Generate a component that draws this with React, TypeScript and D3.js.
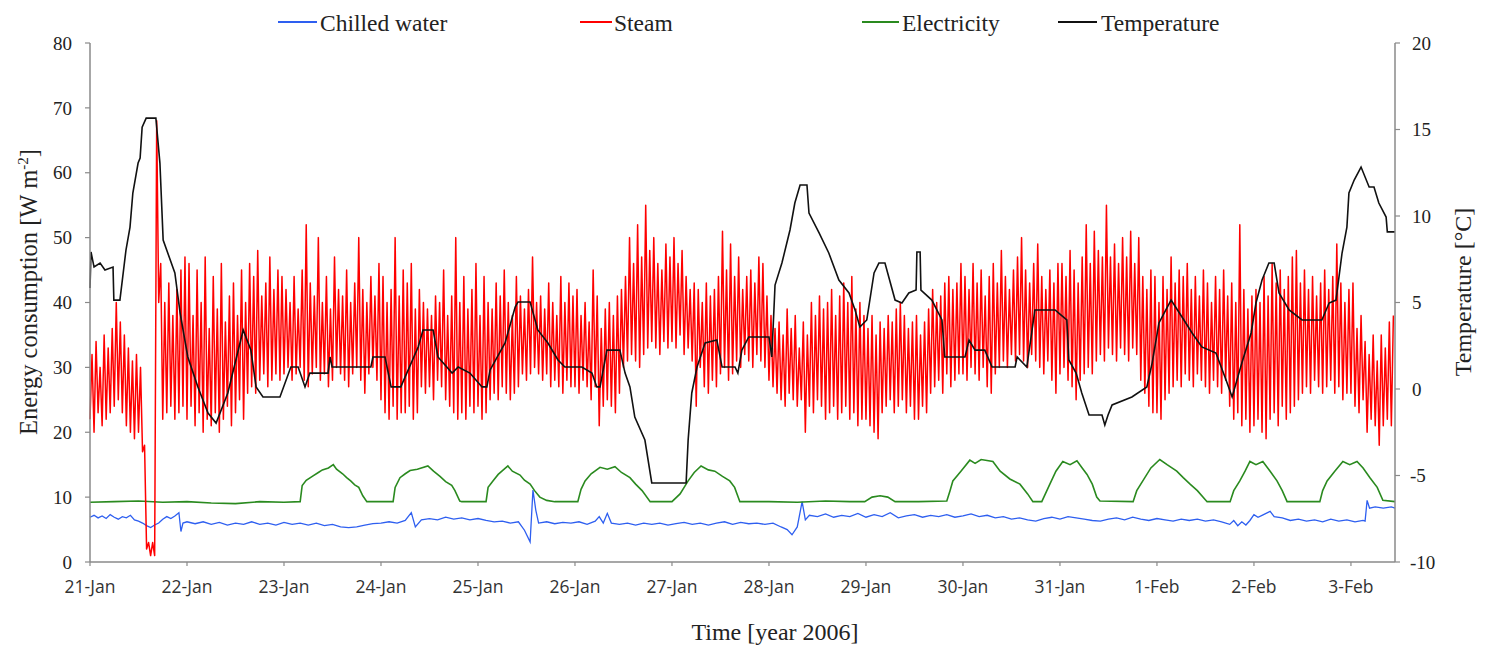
import React from "react";
import * as d3 from "d3";

// ---------- DATA ----------
const START = Date.UTC(2006, 0, 21);
const END_HOURS = 322.9;

const leftTicks = [0, 10, 20, 30, 40, 50, 60, 70, 80];
const rightTicks = [-10, -5, 0, 5, 10, 15, 20];
const legendItems = ["Chilled water", "Steam", "Electricity", "Temperature"];

// Steam (W m-2): each hour a trough reading (on the hour) and a peak reading (half past)
const steamLoJan21 = [22, 20, 23, 21, 22, 23, 24, 25, 23, 21, 20, 19, 20, 17, 2, 1, 1, 40, 22, 23, 24, 22, 23, 24];
const steamHiJan21 = [32, 34, 30, 35, 33, 36, 40, 37, 35, 33, 31, 32, 30, 18, 3, 3, 68, 46, 40, 43, 38, 42, 45, 47];
const steamLoJan22 = [22, 24, 21, 23, 20, 22, 21, 23, 20, 22, 24, 21, 23, 25, 22, 26, 27, 26, 28, 29, 27, 28, 29, 28];
const steamHiJan22 = [46, 38, 45, 40, 47, 36, 44, 39, 46, 37, 41, 43, 38, 45, 40, 46, 44, 48, 41, 43, 47, 42, 45, 44];
const steamLoJan23 = [29, 30, 28, 29, 30, 28, 27, 29, 30, 28, 29, 27, 28, 30, 29, 28, 27, 29, 30, 28, 26, 29, 30, 28];
const steamHiJan23 = [42, 40, 44, 39, 45, 52, 43, 41, 50, 40, 44, 39, 47, 42, 41, 45, 40, 43, 50, 42, 40, 44, 41, 46];
const steamLoJan24 = [25, 23, 22, 24, 22, 23, 23, 24, 22, 23, 27, 26, 27, 25, 28, 27, 25, 24, 23, 22, 23, 22, 24, 23];
const steamHiJan24 = [44, 40, 42, 50, 41, 45, 43, 46, 39, 42, 40, 39, 38, 41, 40, 45, 38, 41, 50, 40, 44, 39, 42, 46];
const steamLoJan25 = [24, 22, 23, 25, 26, 25, 27, 26, 25, 26, 27, 29, 28, 29, 30, 29, 28, 29, 27, 28, 27, 26, 28, 27];
const steamHiJan25 = [38, 44, 40, 39, 43, 41, 45, 40, 38, 44, 41, 39, 42, 47, 40, 41, 39, 43, 40, 38, 44, 40, 43, 41];
const steamLoJan26 = [27, 26, 28, 27, 25, 27, 21, 24, 25, 24, 23, 26, 30, 31, 32, 31, 30, 32, 33, 34, 33, 32, 34, 33];
const steamHiJan26 = [42, 38, 40, 37, 45, 41, 36, 39, 40, 38, 41, 42, 44, 50, 46, 52, 47, 55, 48, 50, 46, 45, 49, 47];
const steamLoJan27 = [34, 33, 35, 32, 33, 31, 24, 30, 27, 26, 28, 27, 29, 30, 28, 29, 31, 30, 32, 31, 30, 32, 31, 30];
const steamHiJan27 = [50, 46, 48, 44, 42, 43, 42, 40, 43, 41, 42, 44, 51, 45, 49, 44, 47, 42, 44, 45, 43, 47, 46, 41];
const steamLoJan28 = [28, 27, 26, 25, 24, 26, 25, 24, 25, 20, 24, 23, 25, 24, 22, 23, 24, 22, 23, 24, 22, 23, 21, 22];
const steamHiJan28 = [38, 36, 37, 35, 39, 36, 38, 33, 37, 35, 40, 38, 41, 39, 40, 42, 38, 41, 43, 40, 44, 39, 40, 38];
const steamLoJan29 = [22, 21, 20, 19, 23, 24, 25, 23, 24, 25, 23, 24, 22, 22, 24, 23, 26, 27, 28, 26, 29, 27, 28, 29];
const steamHiJan29 = [36, 38, 35, 37, 36, 38, 37, 39, 40, 38, 36, 37, 38, 35, 37, 39, 42, 40, 41, 43, 44, 42, 43, 46];
const steamLoJan30 = [29, 28, 30, 29, 28, 30, 27, 26, 29, 30, 31, 30, 32, 31, 32, 31, 30, 32, 31, 30, 29, 31, 28, 26];
const steamHiJan30 = [44, 42, 46, 43, 45, 41, 44, 46, 43, 48, 44, 42, 45, 47, 50, 45, 43, 46, 49, 44, 42, 45, 43, 46];
const steamLoJan31 = [29, 30, 28, 27, 25, 28, 29, 30, 29, 31, 32, 31, 33, 32, 31, 33, 32, 31, 33, 32, 28, 26, 24, 23];
const steamHiJan31 = [46, 44, 48, 45, 43, 47, 52, 46, 51, 48, 47, 55, 47, 49, 46, 50, 47, 51, 46, 50, 44, 42, 45, 44];
const steamLoFeb1 = [23, 22, 25, 26, 27, 28, 27, 29, 28, 27, 29, 28, 27, 26, 28, 27, 26, 28, 24, 22, 23, 21, 22, 20];
const steamHiFeb1 = [40, 44, 42, 47, 43, 45, 44, 46, 42, 44, 41, 45, 43, 40, 44, 42, 45, 41, 43, 40, 52, 42, 39, 41];
const steamLoFeb2 = [21, 22, 20, 19, 22, 23, 21, 24, 22, 23, 24, 25, 26, 27, 26, 28, 27, 26, 27, 28, 26, 27, 25, 26];
const steamHiFeb2 = [42, 40, 44, 41, 46, 43, 45, 42, 44, 47, 48, 43, 45, 42, 44, 41, 43, 45, 42, 44, 49, 43, 40, 42];
const steamLoFeb3 = [26, 24, 23, 25, 20, 22, 21, 18, 21, 22, 21];
const steamHiFeb3 = [43, 36, 38, 34, 32, 35, 31, 35, 33, 37, 38];

const steamLoDays = [steamLoJan21, steamLoJan22, steamLoJan23, steamLoJan24, steamLoJan25, steamLoJan26, steamLoJan27,
  steamLoJan28, steamLoJan29, steamLoJan30, steamLoJan31, steamLoFeb1, steamLoFeb2, steamLoFeb3];
const steamHiDays = [steamHiJan21, steamHiJan22, steamHiJan23, steamHiJan24, steamHiJan25, steamHiJan26, steamHiJan27,
  steamHiJan28, steamHiJan29, steamHiJan30, steamHiJan31, steamHiFeb1, steamHiFeb2, steamHiFeb3];

// Temperature breakpoints [hour, °C]
const temperature: [number, number][] = [
  [0, 5.84], [0.25, 7.92], [1, 7.05], [2.5, 7.28], [3.7, 6.88], [5.7, 7.05], [5.9, 5.14], [7.4, 5.14],
  [8.9, 8.03], [9.9, 9.36], [10.6, 11.33], [11.9, 13.06], [12.4, 13.35], [12.9, 15.14], [13.9, 15.66],
  [16.3, 15.66], [17.3, 13.06], [18.1, 8.61], [21.0, 6.71], [22.3, 4.39], [24.2, 1.85], [26.7, 0.12],
  [29.2, -1.39], [31.2, -1.97], [34.1, -0.23], [37.9, 3.41], [39.8, 2.25], [41.1, 0.12], [42.8, -0.46],
  [47.0, -0.46], [49.7, 1.27], [51.5, 1.27], [53.2, 0.12], [54.4, 0.92], [58.9, 0.92], [59.4, 1.85],
  [59.9, 1.27], [69.5, 1.27], [70.0, 1.85], [73.0, 1.85], [74.5, 0.12], [76.9, 0.12], [81.2, 2.43],
  [82.4, 3.41], [84.9, 3.41], [86.1, 1.85], [89.6, 0.92], [91.1, 1.27], [94.0, 0.92], [97.0, 0.12],
  [98.2, 0.12], [99.0, 1.10], [102.7, 2.66], [105.2, 4.74], [105.9, 5.03], [108.9, 5.03], [110.8, 3.41],
  [113.3, 2.66], [115.8, 1.68], [117.5, 1.27], [121.7, 1.27], [124.2, 0.92], [125.4, 0.12], [126.2, 0.12],
  [127.9, 2.25], [131.1, 2.25], [132.4, 0.92], [133.6, 0.12], [134.8, -1.62], [137.3, -2.95], [139.0, -5.43],
  [147.5, -5.43], [148.0, -2.95], [148.9, -0.23], [150.2, 1.27], [152.2, 2.66], [155.1, 2.83], [156.4, 1.27],
  [159.6, 1.27], [160.3, 0.92], [161.3, 2.25], [163.0, 3.01], [168.0, 3.01], [168.7, 1.85], [169.5, 6.01],
  [171.2, 7.28], [173.2, 9.19], [174.4, 10.75], [175.7, 11.79], [177.4, 11.79], [177.9, 10.17], [180.4, 9.02],
  [182.8, 7.86], [185.3, 6.30], [187.8, 5.55], [189.3, 4.57], [190.5, 3.58], [192.2, 3.99], [194.0, 6.71],
  [195.2, 7.28], [196.7, 7.28], [199.2, 5.14], [200.9, 4.97], [202.6, 5.55], [204.4, 5.72], [204.6, 7.92],
  [205.4, 7.92], [205.6, 5.72], [208.3, 5.14], [210.8, 3.99], [211.5, 1.85], [216.5, 1.85], [217.5, 2.83],
  [219.0, 2.25], [221.4, 2.25], [223.2, 1.27], [228.9, 1.27], [229.4, 1.85], [231.8, 1.27], [233.8, 4.57],
  [238.8, 4.57], [239.7, 4.39], [241.7, 3.99], [242.2, 1.68], [244.0, 0.92], [245.4, -0.23], [247.2, -1.50],
  [250.4, -1.50], [251.1, -2.08], [251.9, -1.50], [252.9, -0.92], [257.8, -0.46], [261.5, 0.12], [262.8, 1.50],
  [264.5, 3.82], [266.2, 4.57], [267.5, 5.14], [270.2, 4.16], [272.7, 3.24], [275.1, 2.43], [278.6, 2.08],
  [281.1, 0.52], [282.6, -0.46], [285.0, 1.50], [287.3, 3.24], [288.5, 4.97], [290.0, 6.30], [291.7, 7.28],
  [293.0, 7.28], [294.2, 5.55], [296.7, 4.57], [299.9, 3.99], [304.8, 3.99], [306.6, 4.97], [308.3, 5.14],
  [309.8, 7.86], [311.0, 9.36], [311.5, 11.33], [312.8, 12.08], [314.5, 12.83], [316.5, 11.68], [317.7, 11.68],
  [318.9, 10.75], [320.7, 9.94], [321.0, 9.08], [322.9, 9.08],
];

// Electricity breakpoints [hour, W m-2]
const electricity: [number, number][] = [
  [0, 9.2], [6, 9.3], [12, 9.4], [18, 9.2], [24, 9.3], [30, 9.1], [36, 9.0], [42, 9.3], [48, 9.2], [52, 9.3],
  [52.5, 11.8], [53.5, 12.6], [55, 13.2], [56.5, 13.8], [57.5, 14.2], [59, 14.5], [60.2, 15.0], [61, 14.3],
  [62.5, 13.6], [63.5, 13.0], [64.5, 12.5], [65.5, 11.9], [66.5, 11.5], [67.5, 10.2], [68.5, 9.3], [75, 9.3],
  [75.5, 11.5], [76.7, 13.0], [78, 13.6], [79.2, 14.1], [81, 14.3], [83.6, 14.8], [85, 14.0], [86.6, 13.2],
  [88, 12.4], [89.5, 11.8], [90.3, 11.0], [91.5, 9.4], [92, 9.3], [98, 9.3], [98.5, 11.5], [99.7, 12.5],
  [101, 13.5], [103.4, 14.8], [104.5, 14.0], [106.4, 13.4], [107.5, 12.6], [108.9, 12.0], [110, 11.0],
  [111.3, 10.0], [113, 9.5], [115, 9.3], [120.7, 9.3], [121.5, 11.2], [122.5, 12.5], [124, 13.6],
  [126.2, 14.6], [128, 14.3], [129.9, 14.7], [131.5, 13.8], [133.6, 13.0], [135, 12.0], [136.6, 11.0],
  [138.6, 9.3], [144, 9.3], [146, 10.5], [148, 12.5], [149.5, 13.8], [151.2, 14.8], [153, 14.2], [154.6, 14.0],
  [156.5, 13.2], [158.3, 12.5], [159.5, 11.5], [160.8, 9.3], [168, 9.3], [175, 9.2], [182, 9.4], [188, 9.3],
  [191.7, 9.3], [193.5, 10.0], [195.5, 10.2], [197.4, 10.0], [199.2, 9.3], [205, 9.3], [212, 9.4],
  [212.8, 11.0], [213.5, 12.5], [215.5, 14.0], [217.7, 15.7], [219, 15.2], [220.5, 15.8], [223.4, 15.5],
  [225.2, 14.0], [227.6, 12.8], [230.1, 12.0], [232, 10.5], [233.3, 9.3], [235.5, 9.3], [237.5, 12.0],
  [239, 14.0], [240.7, 15.5], [242.5, 15.0], [244.2, 15.6], [245.5, 14.5], [246.7, 13.5], [248, 12.0],
  [249.1, 10.0], [249.9, 9.4], [258.1, 9.3], [259, 11.0], [260.5, 12.5], [262.5, 14.5], [264.7, 15.8],
  [266.5, 15.0], [268.9, 14.0], [270.5, 13.0], [272.2, 12.0], [274, 11.0], [276.4, 9.3], [282.1, 9.3],
  [283, 11.0], [284.5, 12.5], [285.8, 14.0], [287, 15.5], [288.5, 15.0], [290.2, 15.5], [292, 14.0],
  [293.7, 12.5], [295, 11.0], [296.2, 9.3], [304.3, 9.3], [305, 11.0], [306.1, 12.5], [308, 14.0],
  [310, 15.5], [311.7, 15.0], [313.5, 15.5], [315, 14.5], [316.7, 13.0], [318.5, 11.5], [319.9, 9.5],
  [322.9, 9.3],
];

// Chilled water breakpoints [hour, W m-2]
const chilledWater: [number, number][] = [
  [0, 6.9], [1, 7.2], [2, 6.8], [3, 7.1], [4, 6.7], [5, 7.3], [6, 6.9], [7, 6.6], [8, 7.0], [9, 6.8], [10, 7.2],
  [11, 6.5], [12, 6.3], [13, 6.0], [14, 5.6], [15, 5.3], [16, 5.7], [17, 6.0], [18, 6.6], [19, 7.0], [20, 6.7],
  [21, 7.1], [22, 7.6], [22.5, 4.7], [23, 6.0], [24, 6.2], [26, 5.9], [28, 6.2], [30, 5.8], [32, 6.1], [34, 5.7],
  [36, 6.0], [38, 5.8], [40, 6.2], [42, 5.8], [44, 6.0], [46, 5.7], [48, 6.1], [50, 5.8], [52, 6.0], [54, 5.7],
  [56, 6.0], [58, 5.6], [60, 5.8], [62, 5.4], [64, 5.3], [66, 5.4], [68, 5.7], [70, 5.9], [72, 6.0], [74, 6.2],
  [76, 6.0], [78, 6.4], [79.5, 7.6], [80.5, 5.4], [82, 6.5], [84, 6.7], [86, 6.5], [88, 6.9], [90, 6.6],
  [92, 6.8], [94, 6.5], [96, 6.7], [98, 6.4], [100, 6.2], [102, 6.3], [104, 6.0], [106, 6.2], [107.5, 4.9],
  [108.9, 3.1], [109.6, 11.1], [110.3, 8.0], [111, 6.0], [113, 6.2], [115, 5.9], [117, 6.1], [119, 6.0],
  [121, 6.2], [123, 5.8], [125, 6.3], [126, 7.0], [127, 6.0], [128, 7.5], [129, 6.0], [131, 5.8], [133, 6.0],
  [135, 5.7], [137, 6.0], [139, 5.8], [141, 6.0], [143, 5.7], [145, 5.9], [147, 6.1], [149, 5.8], [151, 6.0],
  [153, 5.7], [155, 6.0], [157, 6.2], [159, 5.8], [161, 6.1], [163, 5.9], [165, 6.0], [167, 5.8], [169, 6.0],
  [171, 5.4], [172.5, 5.0], [173.7, 4.2], [175, 5.4], [176.2, 9.3], [177, 6.5], [178, 7.2], [180, 7.0],
  [182, 7.4], [184, 6.9], [186, 7.2], [188, 7.0], [190, 7.5], [192, 6.9], [194, 7.3], [196, 7.0], [198, 7.6],
  [200, 6.8], [202, 7.1], [204, 7.3], [206, 6.9], [208, 7.2], [210, 7.0], [212, 7.3], [214, 6.9], [216, 7.1],
  [218, 7.4], [220, 7.0], [222, 7.2], [224, 6.8], [226, 7.0], [228, 6.6], [230, 6.8], [232, 6.5], [234, 6.3],
  [236, 6.7], [238, 6.9], [240, 6.6], [242, 7.0], [244, 6.8], [246, 6.6], [248, 6.4], [250, 6.3], [252, 6.6],
  [254, 6.8], [256, 6.5], [258, 6.9], [260, 6.6], [262, 6.4], [264, 6.7], [266, 6.5], [268, 6.3], [270, 6.6],
  [272, 6.4], [274, 6.6], [276, 6.3], [278, 6.5], [280, 6.2], [282, 5.8], [283, 6.4], [284, 5.6], [285, 6.2],
  [286, 5.7], [287, 6.4], [288, 7.3], [289, 6.9], [290, 7.2], [292, 7.8], [293, 7.0], [295, 6.8], [297, 6.4],
  [299, 6.6], [301, 6.3], [303, 6.5], [305, 6.2], [307, 6.6], [309, 6.3], [311, 6.5], [313, 6.2], [315, 6.4],
  [315.5, 6.3], [316, 9.5], [316.6, 8.3], [318, 8.5], [320, 8.3], [322, 8.5], [322.9, 8.3],
];

// ---------- CHART ----------
const W = 1485;
const H = 646;
const PL = 90;
const PR = 1395;
const PT = 43;
const PB = 562;

const COLORS = {
  chilled: "#2e5ff0",
  steam: "#ff0000",
  elec: "#2a8a1f",
  temp: "#111111",
  axis: "#8a8a8a",
};

const hourToDate = (h: number) => new Date(START + h * 3600 * 1000);

export default function App() {
  const x = d3.scaleUtc().domain([hourToDate(0), hourToDate(END_HOURS)]).range([PL, PR]);
  const yL = d3.scaleLinear().domain([0, 80]).range([PB, PT]);
  const yR = d3.scaleLinear().domain([-10, 20]).range([PB, PT]);

  const steam: [number, number][] = [];
  steamLoDays.forEach((lo, d) => {
    lo.forEach((v, i) => {
      steam.push([d * 24 + i, v]);
      steam.push([d * 24 + i + 0.5, steamHiDays[d][i]]);
    });
  });

  const lineL = d3
    .line<[number, number]>()
    .x((d) => x(hourToDate(d[0])))
    .y((d) => yL(d[1]));
  const lineR = d3
    .line<[number, number]>()
    .x((d) => x(hourToDate(d[0])))
    .y((d) => yR(d[1]));

  const dayTicks = d3.utcDay.range(hourToDate(0), hourToDate(END_HOURS + 0.01));
  const fmt = d3.utcFormat("%-d-%b");

  const legendPos = [
    { lx1: 278, lx2: 317, tx: 320, color: COLORS.chilled },
    { lx1: 580, lx2: 612, tx: 614, color: COLORS.steam },
    { lx1: 862, lx2: 899, tx: 902, color: COLORS.elec },
    { lx1: 1058, lx2: 1097, tx: 1101, color: COLORS.temp },
  ];

  const serif = "'Liberation Serif', 'Times New Roman', serif";
  const sans = "'Open Sans', 'Liberation Sans', sans-serif";

  return (
    <svg
      width={W}
      height={H}
      style={{ position: "absolute", left: 0, top: 0, background: "#fff" }}
    >
      <rect x={0} y={0} width={W} height={H} fill="#fff" />

      {/* Legend */}
      {legendItems.map((name, i) => (
        <g key={name}>
          <line
            x1={legendPos[i].lx1}
            x2={legendPos[i].lx2}
            y1={22}
            y2={22}
            stroke={legendPos[i].color}
            strokeWidth={2}
          />
          <text x={legendPos[i].tx} y={31} fontFamily={serif} fontSize={23.5} fill="#222">
            {name}
          </text>
        </g>
      ))}

      {/* Series */}
      <path d={lineL(chilledWater) || ""} fill="none" stroke={COLORS.chilled} strokeWidth={1.3} />
      <path d={lineL(electricity) || ""} fill="none" stroke={COLORS.elec} strokeWidth={1.6} />
      <path d={lineL(steam) || ""} fill="none" stroke={COLORS.steam} strokeWidth={1.5} strokeLinejoin="round" />
      <path d={lineR(temperature) || ""} fill="none" stroke={COLORS.temp} strokeWidth={1.6} />

      {/* Axes */}
      <line x1={PL} x2={PL} y1={PT} y2={PB} stroke={COLORS.axis} strokeWidth={1.5} />
      <line x1={PR} x2={PR} y1={PT} y2={PB} stroke={COLORS.axis} strokeWidth={1.5} />
      <line x1={PL} x2={PR} y1={PB} y2={PB} stroke={COLORS.axis} strokeWidth={1.5} />

      {leftTicks.map((t) => (
        <g key={"l" + t}>
          <line x1={PL - 5} x2={PL} y1={yL(t)} y2={yL(t)} stroke={COLORS.axis} strokeWidth={1.2} />
          <text
            x={72}
            y={yL(t)}
            dy="0.35em"
            textAnchor="end"
            fontFamily={serif}
            fontSize={19}
            fill="#222"
          >
            {t}
          </text>
        </g>
      ))}

      {rightTicks.map((t) => (
        <g key={"r" + t}>
          <line x1={PR} x2={PR + 5} y1={yR(t)} y2={yR(t)} stroke={COLORS.axis} strokeWidth={1.2} />
          <text
            x={t < 0 ? 1410 : 1412}
            y={yR(t)}
            dy="0.35em"
            textAnchor="start"
            fontFamily={serif}
            fontSize={19}
            fill="#222"
          >
            {t}
          </text>
        </g>
      ))}

      {dayTicks.map((d) => (
        <g key={d.toISOString()}>
          <line x1={x(d)} x2={x(d)} y1={PB} y2={PB + 4} stroke={COLORS.axis} strokeWidth={1.2} />
          <text
            x={x(d)}
            y={593}
            textAnchor="middle"
            fontFamily={sans}
            fontSize={17.5}
            fill="#333"
          >
            {fmt(d)}
          </text>
        </g>
      ))}

      {/* Axis titles */}
      <text
        x={775}
        y={640}
        textAnchor="middle"
        fontFamily={serif}
        fontSize={24}
        fill="#222"
      >
        Time [year 2006]
      </text>
      <text
        transform="translate(37,292) rotate(-90)"
        textAnchor="middle"
        fontFamily={serif}
        fontSize={24.5}
        fill="#222"
      >
        Energy consumption [W m
        <tspan dy={-9} fontSize={15}>
          -2
        </tspan>
        <tspan dy={9}>]</tspan>
      </text>
      <text
        transform="translate(1471,292) rotate(-90)"
        textAnchor="middle"
        fontFamily={serif}
        fontSize={24}
        fill="#222"
      >
        Temperature [°C]
      </text>
    </svg>
  );
}
